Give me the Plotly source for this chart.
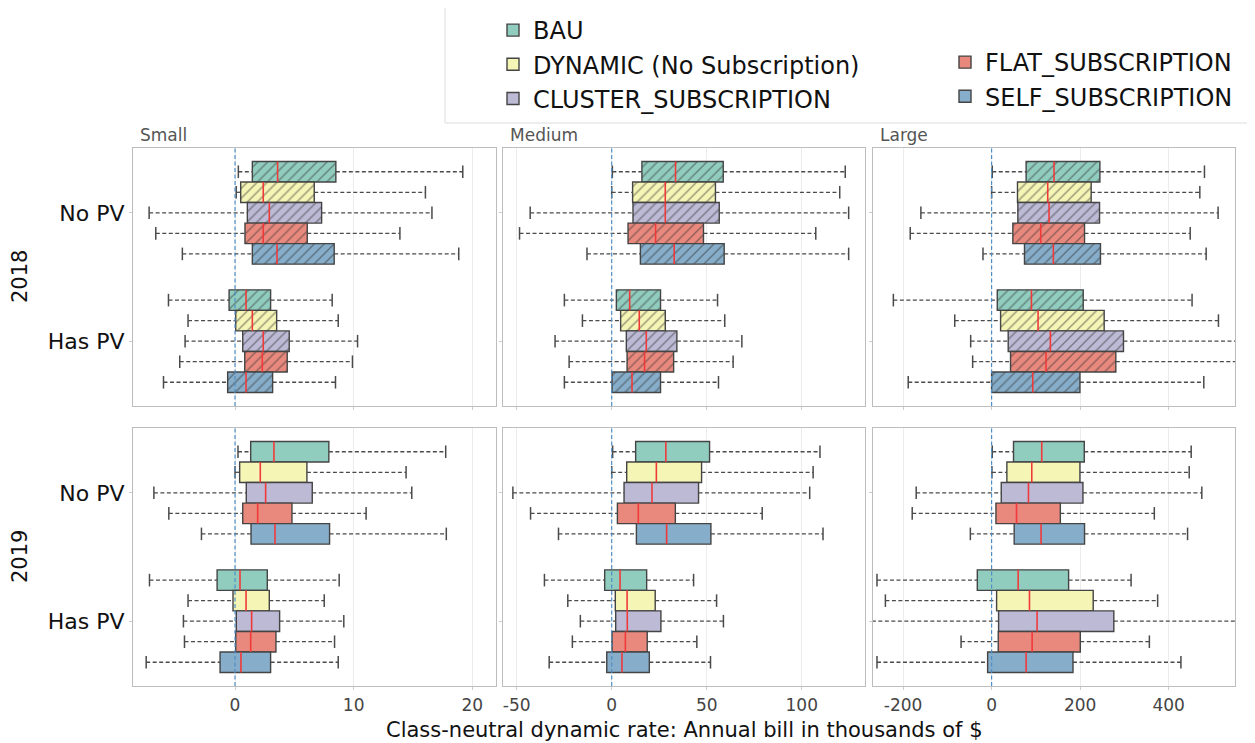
import plotly.graph_objects as go
from plotly.subplots import make_subplots

# ---------------- data ----------------
scenarios = ["BAU", "DYNAMIC (No Subscription)", "CLUSTER_SUBSCRIPTION",
             "FLAT_SUBSCRIPTION", "SELF_SUBSCRIPTION"]
colors = ["#91cdbf", "#f5f5b6", "#bdbad6", "#e9897e", "#86adc9"]
groups = ["No PV", "Has PV"]
sizes = ["Small", "Medium", "Large"]
years = ["2018", "2019"]

# each stat list: [No PV (5 scenarios), Has PV (5 scenarios)]
small_2018_low = [[0.28, 0.1, -7.24, -6.68, -4.44], [-5.61, -3.96, -4.21, -4.66, -6.03]]
small_2018_q1 = [[1.46, 0.48, 1.04, 0.84, 1.46], [-0.5, 0.06, 0.65, 0.82, -0.62]]
small_2018_med = [[3.59, 2.38, 2.89, 2.38, 3.54], [0.93, 1.46, 2.38, 2.30, 0.93]]
small_2018_q3 = [[8.5, 6.68, 7.3, 6.09, 8.36], [3.0, 3.51, 4.57, 4.4, 3.17]]
small_2018_high = [[19.2, 16.05, 16.6, 13.9, 18.86], [8.19, 8.7, 10.33, 9.9, 8.47]]

medium_2018_low = [[0.35, 0.0, -42.9, -48.5, -13.0], [-24.9, -15.4, -29.8, -22.4, -24.9]]
medium_2018_q1 = [[15.9, 11.0, 11.2, 8.6, 15.1], [2.45, 4.7, 7.7, 8.1, 0.2]]
medium_2018_med = [[33.6, 28.2, 28.2, 23.1, 32.9], [9.46, 14.5, 18.2, 17.3, 10.7]]
medium_2018_q3 = [[58.7, 54.6, 56.6, 48.3, 59.2], [25.7, 28.2, 34.3, 32.6, 25.7]]
medium_2018_high = [[122.9, 120.0, 124.7, 107.4, 124.7], [55.7, 59.5, 68.5, 63.9, 56.2]]

large_2018_low = [[1.5, 0.0, -159.8, -183.9, -19.5], [-222.0, -83.3, -47.3, -42.8, -188.4]]
large_2018_q1 = [[78.0, 58.5, 59.3, 48.0, 74.3], [12.8, 20.3, 37.5, 42.8, 0.0]]
large_2018_med = [[141.0, 126.8, 129.8, 111.0, 139.6], [90.0, 105.0, 132.8, 123.0, 93.0]]
large_2018_q3 = [[244.7, 225.0, 243.9, 210.0, 246.0], [207.0, 254.4, 298.0, 280.7, 199.6]]
large_2018_high = [[481.0, 470.5, 511.8, 448.8, 484.8], [453.0, 512.6, 600.0, 580.0, 479.5]]

small_2019_low = [[0.25, 0.0, -6.84, -5.58, -2.83], [-7.21, -3.96, -4.35, -4.26, -7.49]]
small_2019_q1 = [[1.32, 0.39, 0.95, 0.65, 1.35], [-1.51, -0.17, 0.11, 0.06, -1.26]]
small_2019_med = [[3.28, 2.13, 2.58, 1.91, 3.37], [0.42, 0.93, 1.40, 1.32, 0.5]]
small_2019_q3 = [[7.91, 6.06, 6.51, 4.8, 7.97], [2.72, 2.89, 3.76, 3.45, 3.0]]
small_2019_high = [[17.76, 14.42, 14.9, 11.05, 17.81], [8.78, 7.52, 9.17, 8.39, 8.7]]

medium_2019_low = [[0.5, 0.0, -52.0, -42.7, -28.0], [-35.4, -23.1, -16.5, -20.7, -32.9]]
medium_2019_q1 = [[12.6, 7.9, 6.5, 3.0, 13.0], [-3.7, 1.9, 2.1, 0.2, -2.6]]
medium_2019_med = [[28.5, 23.5, 21.2, 14.0, 28.9], [4.4, 8.1, 8.2, 7.2, 5.4]]
medium_2019_q3 = [[51.5, 47.3, 45.7, 33.5, 52.2], [18.4, 22.9, 25.9, 18.7, 19.8]]
medium_2019_high = [[109.6, 106.0, 104.2, 79.2, 111.2], [43.1, 55.2, 58.8, 44.8, 52.0]]

large_2019_low = [[1.5, 0.75, -170.4, -179.4, -48.0], [-259.0, -240.0, -300.0, -69.0, -259.0]]
large_2019_q1 = [[49.5, 34.5, 21.8, 9.8, 51.0], [-32.3, 11.3, 15.8, 15.0, -9.0]]
large_2019_med = [[113.3, 90.8, 83.3, 56.3, 111.8], [60.0, 85.6, 102.8, 91.6, 78.0]]
large_2019_q3 = [[209.4, 199.6, 206.4, 155.3, 210.0], [174.0, 229.6, 276.2, 200.4, 183.9]]
large_2019_high = [[451.0, 446.5, 475.0, 367.7, 442.8], [315.2, 375.2, 600.0, 356.5, 427.8]]

x_ranges = [[-8.6, 22.0], [-57.2, 133.3], [-268.0, 550.0]]
x_tickvals = [[0, 10, 20], [-50, 0, 50, 100], [-200, 0, 200, 400]]
x_ticktext = [["0", "10", "20"], ["-50", "0", "50", "100"], ["-200", "0", "200", "400"]]

panels = {
    ("2018", "Small"): (small_2018_low, small_2018_q1, small_2018_med, small_2018_q3, small_2018_high),
    ("2018", "Medium"): (medium_2018_low, medium_2018_q1, medium_2018_med, medium_2018_q3, medium_2018_high),
    ("2018", "Large"): (large_2018_low, large_2018_q1, large_2018_med, large_2018_q3, large_2018_high),
    ("2019", "Small"): (small_2019_low, small_2019_q1, small_2019_med, small_2019_q3, small_2019_high),
    ("2019", "Medium"): (medium_2019_low, medium_2019_q1, medium_2019_med, medium_2019_q3, medium_2019_high),
    ("2019", "Large"): (large_2019_low, large_2019_q1, large_2019_med, large_2019_q3, large_2019_high),
}

# ---------------- figure ----------------
W, H = 1255, 743
OFF = 8  # page body margin: the figure is drawn 8px from the page's top-left
FONT = "DejaVu Sans"


def px(x):
    return (x - OFF) / W


def py(y):
    return 1 - (y - OFF) / H


fig = make_subplots(rows=2, cols=3)

col_dom = [(133, 496), (503, 865), (873, 1235)]
row_dom = [(148, 406), (428, 686)]
group_pos = [1.0, 0.0]          # No PV on top, Has PV below
box_h = 0.16
offsets = [2 * box_h, box_h, 0.0, -box_h, -2 * box_h]
edge = "#444444"

for ri, yr in enumerate(years):
    for ci, sz in enumerate(sizes):
        low, q1, med, q3, high = panels[(yr, sz)]
        row, col = ri + 1, ci + 1
        for si, name in enumerate(scenarios):
            ys = [group_pos[g] + offsets[si] for g in range(2)]
            lo = [low[g][si] for g in range(2)]
            a = [q1[g][si] for g in range(2)]
            m = [med[g][si] for g in range(2)]
            b = [q3[g][si] for g in range(2)]
            hi = [high[g][si] for g in range(2)]
            # whiskers (dashed)
            wx, wy = [], []
            for g in range(2):
                wx += [lo[g], a[g], None, b[g], hi[g], None]
                wy += [ys[g], ys[g], None, ys[g], ys[g], None]
            fig.add_trace(go.Scatter(x=wx, y=wy, mode="lines", showlegend=False,
                                     line=dict(color="#4a4a4a", width=1.3, dash="4px,2.5px"),
                                     hoverinfo="skip"), row=row, col=col)
            # caps
            fig.add_trace(go.Scatter(x=lo + hi, y=ys + ys, mode="markers", showlegend=False,
                                     marker=dict(symbol="line-ns", size=9,
                                                 line=dict(color="#4a4a4a", width=1.5)),
                                     hoverinfo="skip"), row=row, col=col)
            # boxes
            pattern = (dict(shape="/", fgcolor="#333333", size=7, solidity=0.2)
                       if yr == "2018" else dict(shape=""))
            show = (yr == "2019" and sz == "Small")
            fig.add_trace(go.Bar(
                y=ys, x=[b[g] - a[g] for g in range(2)], base=a, orientation="h",
                width=box_h, name=name, showlegend=show,
                legend="legend" if si < 3 else "legend2",
                legendgroup=name,
                marker=dict(color=colors[si], line=dict(color=edge, width=1.4),
                            pattern=pattern),
            ), row=row, col=col)
            # medians
            mx, my = [], []
            for g in range(2):
                mx += [m[g], m[g], None]
                my += [ys[g] - box_h / 2, ys[g] + box_h / 2, None]
            fig.add_trace(go.Scatter(x=mx, y=my, mode="lines", showlegend=False,
                                     line=dict(color="#f03a3a", width=1.6),
                                     hoverinfo="skip"), row=row, col=col)

        axn = ri * 3 + ci + 1
        sfx = "" if axn == 1 else str(axn)
        x0, x1 = col_dom[ci]
        y0, y1 = row_dom[ri]
        fig.update_layout(**{
            "xaxis" + sfx: dict(domain=[px(x0), px(x1)], range=x_ranges[ci],
                                tickvals=x_tickvals[ci], ticktext=x_ticktext[ci],
                                showticklabels=(ri == 1), showgrid=True, gridcolor="#ececec",
                                showline=True, mirror=True, linecolor="#bdbdbd", linewidth=1.2,
                                ticks="outside", ticklen=3, tickcolor="#cccccc",
                                zeroline=False,
                                tickfont=dict(family=FONT, size=17, color="#444444")),
            "yaxis" + sfx: dict(domain=[py(y1), py(y0)], range=[-0.505, 1.505],
                                tickvals=group_pos, ticktext=groups,
                                showticklabels=(ci == 0), showgrid=False,
                                showline=True, mirror=True, linecolor="#bdbdbd", linewidth=1.2,
                                ticks="outside", ticklen=3, tickcolor="#cccccc",
                                zeroline=False,
                                tickfont=dict(family=FONT, size=22, color="#111111")),
        })
        fig.add_shape(type="line", xref="x" + sfx, yref=("y" + sfx) + " domain",
                      x0=0, x1=0, y0=0, y1=1,
                      line=dict(color="#4f8fc7", width=1.2, dash="4px,2.5px"), layer="above")

# column titles
for ci, sz in enumerate(sizes):
    fig.add_annotation(text=sz, xref="paper", yref="paper",
                       x=px(col_dom[ci][0] + 5), y=py(147), xanchor="left", yanchor="bottom",
                       showarrow=False, font=dict(family=FONT, size=17, color="#555555"))
# row labels
for ri, yr in enumerate(years):
    fig.add_annotation(text=yr, xref="paper", yref="paper", textangle=-90,
                       x=px(20), y=py((row_dom[ri][0] + row_dom[ri][1]) / 2),
                       xanchor="center", yanchor="middle", showarrow=False,
                       font=dict(family=FONT, size=21, color="#111111"))
# x-axis title
fig.add_annotation(text="Class-neutral dynamic rate: Annual bill in thousands of $",
                   xref="paper", yref="paper", x=px(684), y=py(730),
                   xanchor="center", yanchor="middle", showarrow=False,
                   font=dict(family=FONT, size=21, color="#111111"))

# legend frame
fig.add_shape(type="rect", xref="paper", yref="paper",
              x0=px(445), x1=1.01, y0=py(123), y1=py(5),
              line=dict(color="#dddddd", width=1), fillcolor="white", layer="below")

legend_common = dict(font=dict(family=FONT, size=24, color="#111111"),
                     bgcolor="rgba(0,0,0,0)", borderwidth=0, traceorder="normal",
                     xanchor="left", yanchor="top", orientation="v")
fig.update_layout(
    width=W, height=H,
    margin=dict(l=0, r=0, t=0, b=0),
    paper_bgcolor="white", plot_bgcolor="white",
    barmode="overlay",
    font=dict(family=FONT),
    legend=dict(x=px(493), y=py(8), **legend_common),
    legend2=dict(x=px(945), y=py(40), **legend_common),
)

fig.write_html("out.html")
